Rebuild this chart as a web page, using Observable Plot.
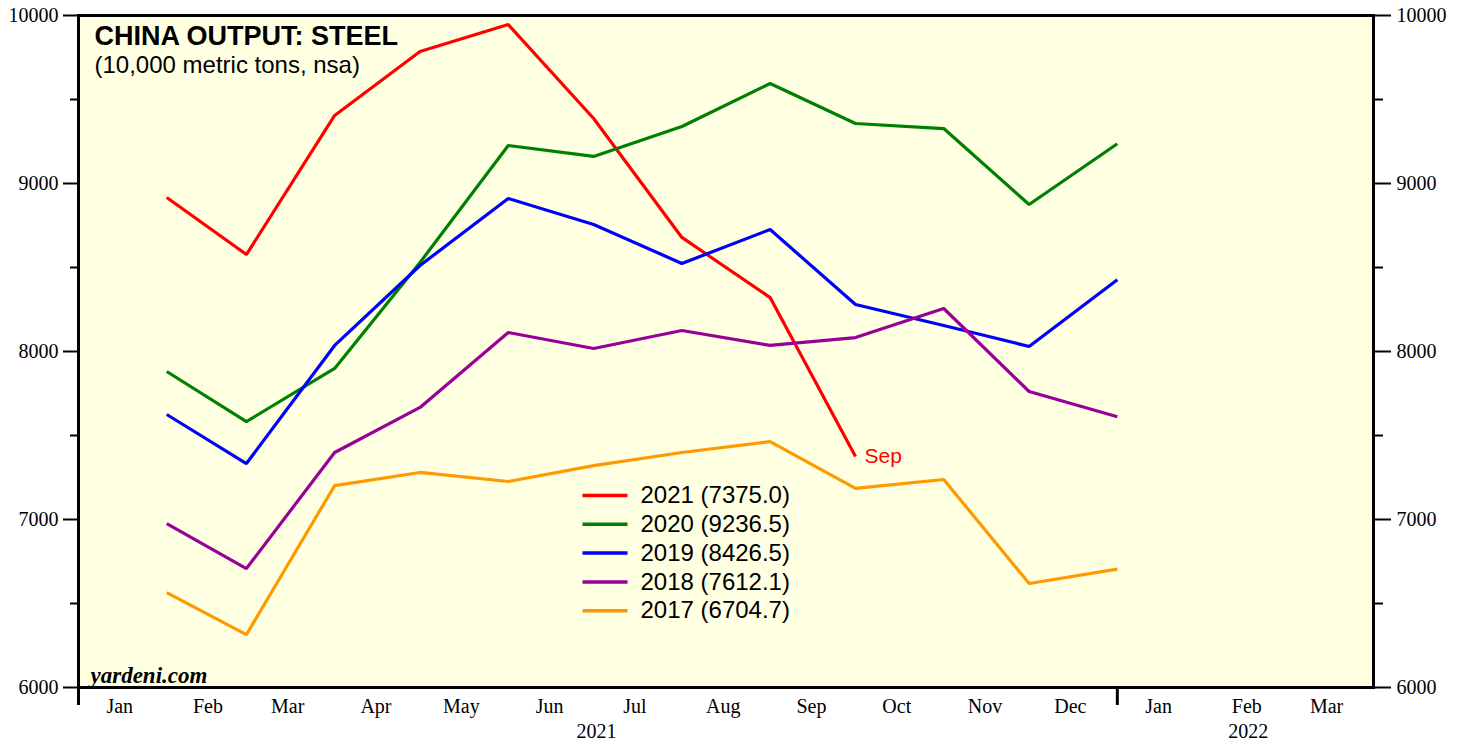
<!DOCTYPE html>
<html>
<head>
<meta charset="utf-8">
<script src="https://cdn.jsdelivr.net/npm/d3@7"></script>
<script src="https://cdn.jsdelivr.net/npm/@observablehq/plot@0.6"></script>
<style>
  html, body { margin: 0; padding: 0; background: white; }
</style>
</head>
<body>
<div id="chart"></div>
<script>
const months = ["Jan","Feb","Mar","Apr","May","Jun","Jul","Aug","Sep","Oct","Nov","Dec"];
const years = ["2021","2020","2019","2018","2017"];
const colors = ["#ff0000","#008000","#0000ff","#990099","#ff9900"];
const v2021 = [8917, 8577, 9405, 9786, 9946, 9387, 8679, 8321, 7375.0];
const v2020 = [7881, 7583, 7899, 8530, 9226, 9161, 9339, 9595, 9357, 9327, 8875, 9236.5];
const v2019 = [7625, 7333, 8036, 8512, 8911, 8756, 8524, 8726, 8280, 8155, 8030, 8426.5];
const v2018 = [6976, 6708, 7399, 7667, 8113, 8018, 8125, 8036, 8083, 8256, 7762, 7612.1];
const v2017 = [6565, 6315, 7202, 7280, 7226, 7321, 7399, 7464, 7185, 7238, 6619, 6704.7];
const yTicks = [6000, 7000, 8000, 9000, 10000];
const yMinor = [6500, 7500, 8500, 9500];
const axisMonths = ["Jan","Feb","Mar","Apr","May","Jun","Jul","Aug","Sep","Oct","Nov","Dec","Jan","Feb","Mar"];
const yearLabels = ["2021","2022"];

const series = [v2021, v2020, v2019, v2018, v2017];
const rows = [];
series.forEach((vals, k) => {
  vals.forEach((v, i) => {
    rows.push({year: years[k], date: new Date(Date.UTC(2021, i + 1, 1)), value: v});
  });
});
const last2021 = rows.filter(d => d.year === "2021").slice(-1);

const monthMid = axisMonths.map((m, i) => new Date(Date.UTC(2021, i, 15, 12)));
const yearMid = [new Date(Date.UTC(2021, 6, 2)), new Date(Date.UTC(2022, 1, 16))];
const yearBounds = [new Date(Date.UTC(2021, 0, 1)), new Date(Date.UTC(2022, 0, 1))];

const sans = "Liberation Sans, Arial, sans-serif";
const serif = "Liberation Serif, Times New Roman, serif";

const lineSymbol = {
  draw(context) { context.moveTo(-22, 0); context.lineTo(23, 0); }
};

const legendMarks = [];
years.forEach((y, k) => {
  const vals = series[k];
  const label = `${y} (${vals[vals.length - 1].toFixed(1)})`;
  const dy = 480 + k * 28.8;
  legendMarks.push(Plot.dot([0], {frameAnchor: "top-left", dx: 526, dy, symbol: lineSymbol, r: 1, stroke: colors[k], strokeWidth: 3.5, fill: "none"}));
  legendMarks.push(Plot.text([label], {frameAnchor: "top-left", dx: 562, dy, text: d => d, textAnchor: "start", lineAnchor: "middle", fontSize: 24, fontFamily: sans, fill: "black"}));
});

const chart = Plot.plot({
  width: 1468,
  height: 747,
  marginLeft: 78,
  marginRight: 95,
  marginTop: 15,
  marginBottom: 60,
  style: {fontFamily: serif, fontSize: "20px", background: "white", color: "black"},
  x: {type: "utc", domain: [new Date(Date.UTC(2021, 0, 1)), new Date(Date.UTC(2022, 3, 1))]},
  y: {domain: [6000, 10000]},
  color: {domain: years, range: colors},
  marks: [
    Plot.frame({fill: "#ffffe2", stroke: "none"}),
    Plot.line(rows, {x: "date", y: "value", z: "year", stroke: "year", strokeWidth: 3.2, strokeLinejoin: "miter", strokeLinecap: "butt"}),
    Plot.text(last2021, {x: "date", y: "value", text: () => "Sep", dx: 9, textAnchor: "start", fill: "#ff0000", fontSize: 21, fontFamily: sans}),
    Plot.text(["CHINA OUTPUT: STEEL"], {frameAnchor: "top-left", dx: 16, dy: 10, lineAnchor: "top", textAnchor: "start", text: d => d, fontSize: 27, fontWeight: "bold", fontFamily: sans}),
    Plot.text(["(10,000 metric tons, nsa)"], {frameAnchor: "top-left", dx: 16, dy: 40, lineAnchor: "top", textAnchor: "start", text: d => d, fontSize: 24, fontFamily: sans}),
    Plot.text(["yardeni.com"], {frameAnchor: "bottom-left", dx: 12, dy: -5, lineAnchor: "bottom", textAnchor: "start", text: d => d, fontSize: 23, fontWeight: "bold", fontStyle: "italic", fontFamily: serif}),
    ...legendMarks,
    Plot.frame({stroke: "black", strokeWidth: 3}),
    Plot.axisY({anchor: "left", ticks: yTicks, tickSize: 15, tickPadding: 5, strokeWidth: 2, fontSize: 20, fontFamily: serif, label: null, tickFormat: d => String(d)}),
    Plot.axisY({anchor: "left", ticks: yMinor, tickSize: 8, strokeWidth: 2, tickFormat: () => "", label: null}),
    Plot.axisY({anchor: "right", ticks: yTicks, tickSize: 17, tickPadding: 6, strokeWidth: 2, fontSize: 20, fontFamily: serif, label: null, tickFormat: d => String(d)}),
    Plot.axisY({anchor: "right", ticks: yMinor, tickSize: 9, strokeWidth: 2, tickFormat: () => "", label: null}),
    Plot.axisX({anchor: "bottom", ticks: monthMid, tickSize: 0, tickPadding: 11, fontSize: 20, fontFamily: serif, tickFormat: (d, i) => axisMonths[i], label: null}),
    Plot.axisX({anchor: "bottom", ticks: yearMid, tickSize: 0, tickPadding: 36, fontSize: 20, fontFamily: serif, tickFormat: (d, i) => yearLabels[i], label: null}),
    Plot.axisX({anchor: "bottom", ticks: yearBounds, tickSize: 18, strokeWidth: 3, tickFormat: () => "", label: null})
  ]
});
document.getElementById("chart").appendChild(chart);
</script>
</body>
</html>
